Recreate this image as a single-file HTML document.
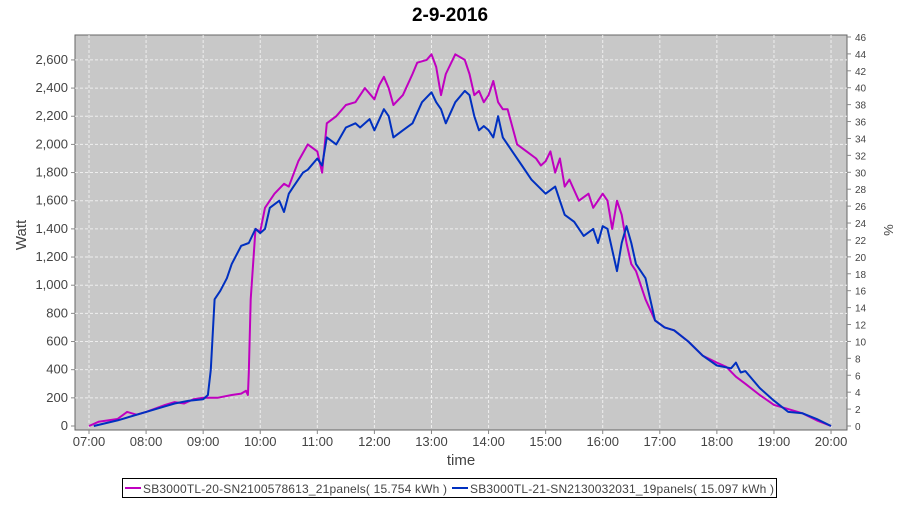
<!DOCTYPE html>
<html><head><meta charset="utf-8"><style>
body{margin:0;background:#fff;font-family:"Liberation Sans",sans-serif}
svg text{font-family:"Liberation Sans",sans-serif}
</style></head><body>
<svg id="s" width="900" height="500" xmlns="http://www.w3.org/2000/svg">
<text x="450" y="21" text-anchor="middle" font-size="19" font-weight="bold">2-9-2016</text>
<rect x="75" y="35" width="772" height="395" fill="#c8c8c8" stroke="#666" stroke-width="1"/>
<g id="g"></g>
<text transform="translate(26,235) rotate(-90)" text-anchor="middle" font-size="15" fill="#444">Watt</text>
<text transform="translate(884,230) rotate(90)" text-anchor="middle" font-size="13" fill="#444">%</text>
<text x="461" y="465" text-anchor="middle" font-size="15" fill="#444">time</text>
<rect x="122.5" y="478.5" width="654" height="19" fill="#fff" stroke="#000"/>
<line x1="125" y1="488" x2="141" y2="488" stroke="#c000c0" stroke-width="2"/>
<text x="143" y="493" font-size="12" fill="#444" textLength="304">SB3000TL-20-SN2100578613_21panels( 15.754 kWh )</text>
<line x1="452" y1="488" x2="468" y2="488" stroke="#0030c0" stroke-width="2"/>
<text x="470" y="493" font-size="12" fill="#444" textLength="304">SB3000TL-21-SN2130032031_19panels( 15.097 kWh )</text>
</svg>
<script>
var g=document.getElementById('g'),h='';
function X(t){return 89+57.08*(t-7);}
function Y(w){return 426-0.1408*w;}
for(var w=0;w<=2600;w+=200){var y=Y(w);
 if(w>0)h+='<line x1="75" x2="847" y1="'+y+'" y2="'+y+'" stroke="#eee" stroke-dasharray="3,2" stroke-width="1"/>';
 h+='<line x1="71" x2="75" y1="'+y+'" y2="'+y+'" stroke="#888"/>';
 h+='<text x="68" y="'+(y+4)+'" text-anchor="end" font-size="13" fill="#444">'+(w>=1000?Math.floor(w/1000)+','+String(w%1000).padStart(3,'0'):w)+'</text>';}
for(var p=0;p<=46;p+=2){var y=426-p*8.457;
 h+='<line x1="847" x2="851" y1="'+y+'" y2="'+y+'" stroke="#888"/>';
 h+='<text x="855" y="'+(y+4)+'" font-size="10" fill="#444">'+p+'</text>';}
for(var t=7;t<=20;t++){var x=X(t);
 h+='<line y1="35" y2="430" x1="'+x+'" x2="'+x+'" stroke="#eee" stroke-dasharray="3,2"/>';
 h+='<line y1="430" y2="434" x1="'+x+'" x2="'+x+'" stroke="#888"/>';
 h+='<text x="'+x+'" y="446" text-anchor="middle" font-size="13" fill="#444">'+(t<10?'0':'')+t+':00</text>';}
function T(s){var a=s.split(':');return +a[0]+a[1]/60;}
var M="7:00 0,7:10 30,7:30 50,7:40 100,7:50 80,8:00 100,8:20 150,8:30 170,8:40 160,8:50 190,9:00 200,9:15 200,9:30 220,9:40 230,9:45 250,9:47 220,9:48 380,9:50 900,9:55 1400,10:00 1380,10:05 1550,10:15 1650,10:25 1720,10:30 1700,10:40 1880,10:50 2000,11:00 1950,11:05 1800,11:10 2150,11:20 2200,11:30 2280,11:40 2300,11:50 2400,12:00 2320,12:05 2420,12:10 2480,12:15 2400,12:20 2280,12:30 2350,12:40 2500,12:45 2580,12:55 2600,13:00 2640,13:05 2550,13:10 2350,13:15 2500,13:25 2640,13:35 2600,13:40 2500,13:45 2350,13:50 2380,13:55 2300,14:00 2350,14:05 2450,14:10 2300,14:15 2250,14:20 2250,14:30 2000,14:40 1950,14:50 1900,14:55 1850,15:00 1880,15:05 1950,15:10 1800,15:15 1900,15:20 1700,15:25 1750,15:35 1600,15:45 1650,15:50 1550,15:55 1600,16:00 1650,16:05 1600,16:10 1400,16:15 1600,16:20 1500,16:25 1300,16:30 1150,16:35 1100,16:45 900,16:55 750,17:05 700,17:15 680,17:30 600,17:45 500,18:00 450,18:10 420,18:20 350,18:30 300,18:45 220,19:00 150,19:15 120,19:30 90,19:45 40,20:00 0";
var B="7:05 0,7:30 40,8:00 100,8:20 140,8:30 160,8:45 180,9:00 190,9:05 220,9:08 400,9:12 900,9:18 960,9:25 1050,9:30 1150,9:40 1280,9:48 1300,9:55 1400,10:00 1370,10:05 1400,10:10 1550,10:20 1600,10:25 1520,10:30 1650,10:35 1700,10:45 1800,10:50 1820,11:00 1900,11:05 1850,11:10 2050,11:20 2000,11:30 2120,11:40 2150,11:45 2120,11:50 2150,11:55 2180,12:00 2100,12:10 2250,12:15 2200,12:20 2050,12:30 2100,12:40 2150,12:50 2300,13:00 2370,13:05 2300,13:10 2250,13:15 2150,13:25 2300,13:35 2380,13:40 2350,13:45 2200,13:50 2100,13:55 2130,14:00 2100,14:05 2050,14:10 2200,14:15 2050,14:25 1950,14:35 1850,14:45 1750,15:00 1650,15:10 1700,15:15 1600,15:20 1500,15:30 1450,15:40 1350,15:50 1400,15:55 1300,16:00 1420,16:05 1400,16:15 1100,16:20 1300,16:25 1420,16:30 1300,16:35 1150,16:45 1050,16:55 750,17:05 700,17:15 680,17:30 600,17:45 500,18:00 430,18:15 410,18:20 450,18:25 380,18:30 390,18:45 270,19:00 180,19:15 100,19:30 90,19:45 50,20:00 0";
function P(d,c){var pts=d.split(',').map(function(e){var a=e.split(' ');return X(T(a[0])).toFixed(1)+','+Y(+a[1]).toFixed(1);});
 return '<polyline fill="none" stroke="'+c+'" stroke-width="2" stroke-linejoin="round" points="'+pts.join(' ')+'"/>';}
h+=P(M,'#c000c0')+P(B,'#0030c0');
g.innerHTML=h;
</script>
</body></html>
